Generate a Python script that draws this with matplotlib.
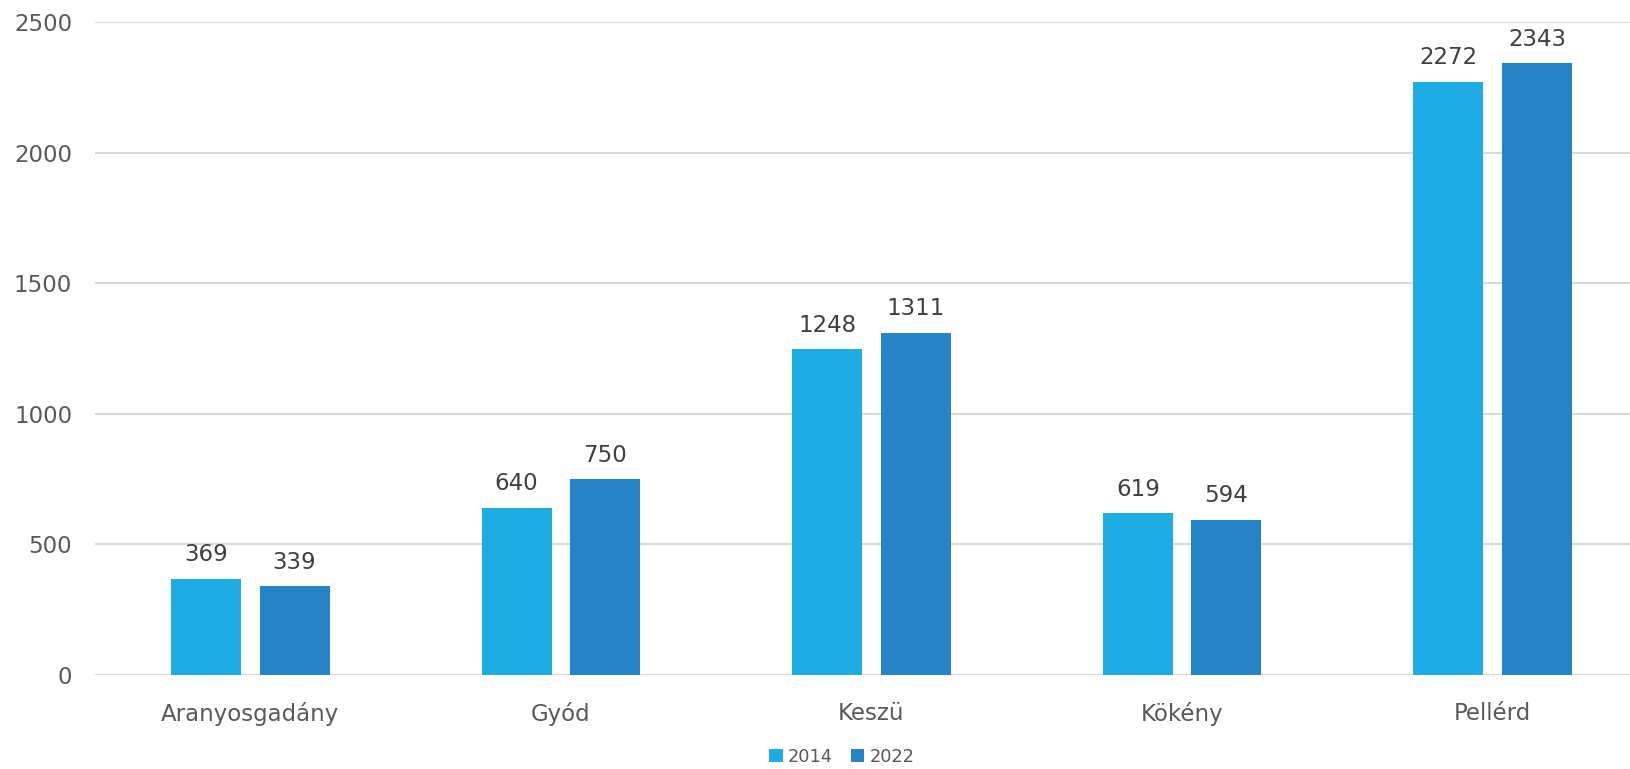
import matplotlib
matplotlib.use('Agg')
import matplotlib.pyplot as plt
import numpy as np

plt.rcParams['font.family'] = ['DejaVu Sans']

categories = ['Aranyosgadány', 'Gyód', 'Keszü', 'Kökény', 'Pellérd']
values_2014 = [369, 640, 1248, 619, 2272]
values_2022 = [339, 750, 1311, 594, 2343]
series_names = ['2014', '2022']
y_ticks = [0, 500, 1000, 1500, 2000, 2500]

color_2014 = '#1EADE3'
color_2022 = '#2683C6'
text_grey = '#595959'

fig = plt.figure(figsize=(16.30, 7.69), dpi=100)
# the plot area runs past the right edge of the picture, as in the original
ax = fig.add_axes([95 / 1630, 94 / 769, 1553 / 1630, 653 / 769])

x = np.arange(len(categories))
w = 0.225
off = 0.1425
b1 = ax.bar(x - off, values_2014, w, color=color_2014, label=series_names[0], zorder=3)
b2 = ax.bar(x + off, values_2022, w, color=color_2022, label=series_names[1], zorder=3)

for bars in (b1, b2):
    for r in bars:
        ax.annotate(str(int(r.get_height())), (r.get_x() + r.get_width() / 2, r.get_height()),
                    xytext=(0, 9), textcoords='offset points', ha='center', va='bottom',
                    fontsize=16.5, color='#404040')

ax.set_xlim(-0.5, len(categories) - 0.5)
ax.set_ylim(0, 2500)
ax.set_yticks(y_ticks)
ax.set_xticks(x)
ax.set_xticklabels(categories)
ax.yaxis.grid(True, color='#D9D9D9', linewidth=1.5, zorder=0)
ax.tick_params(axis='both', length=0, labelsize=16.5, labelcolor=text_grey)
ax.tick_params(axis='y', pad=16.5)
ax.tick_params(axis='x', pad=19.5)
for s in ax.spines.values():
    s.set_visible(False)

fig.legend(handles=[b1, b2], labels=series_names, loc='center', bbox_to_anchor=(842 / 1630, 1 - 757 / 769),
           ncol=2, frameon=False, fontsize=12.8, labelcolor=text_grey, handlelength=0.75, handleheight=0.75,
           handletextpad=0.3, columnspacing=1.0)

fig.savefig('out.png', dpi=100)
plt.close(fig)
